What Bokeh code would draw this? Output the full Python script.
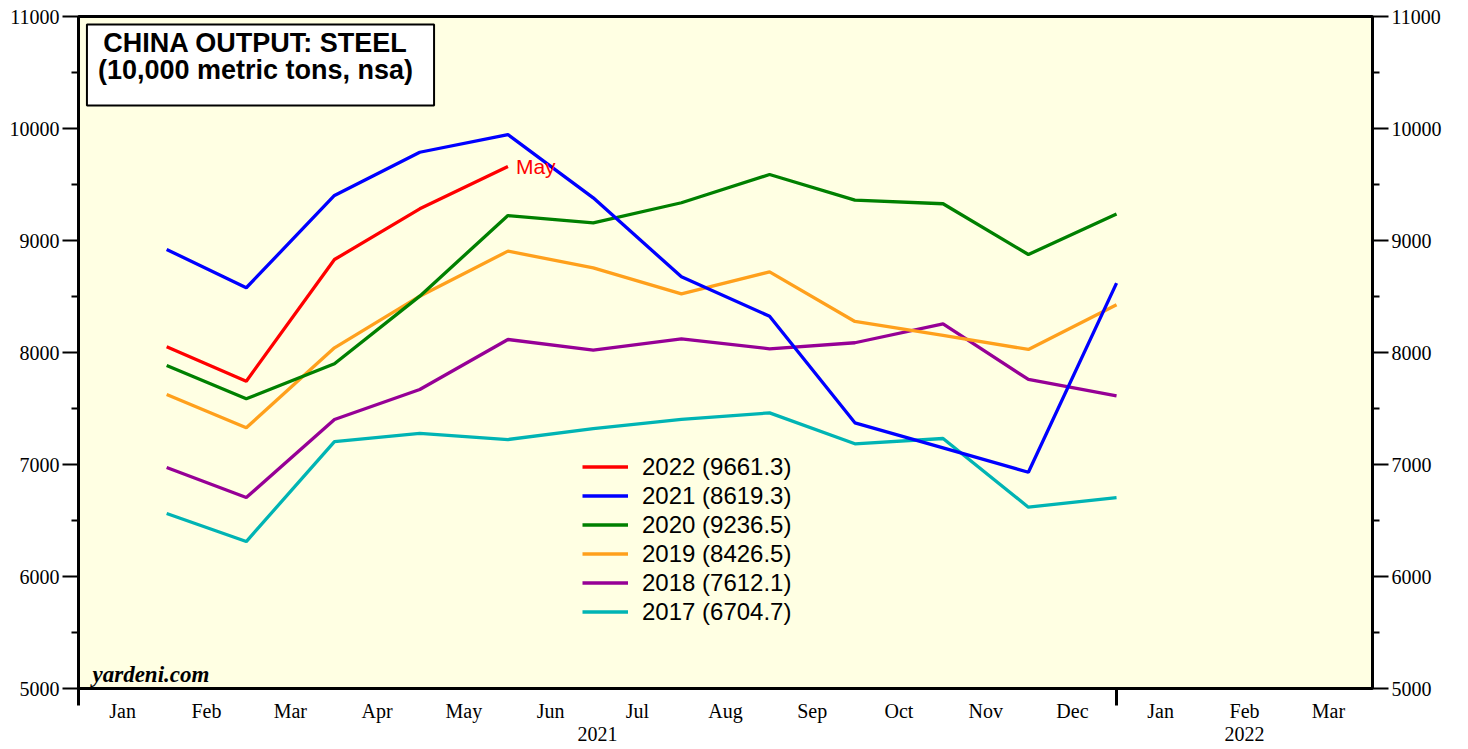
import datetime as dt
from bokeh.plotting import figure
from bokeh.models import Range1d, LinearAxis, FixedTicker, Label, Legend, LegendItem
from bokeh.embed import file_html
from bokeh.resources import INLINE

# ---------------- data ----------------
month_names = ["Jan", "Feb", "Mar", "Apr", "May", "Jun",
               "Jul", "Aug", "Sep", "Oct", "Nov", "Dec"]
axis_months = ["Jan", "Feb", "Mar", "Apr", "May", "Jun", "Jul", "Aug",
               "Sep", "Oct", "Nov", "Dec", "Jan", "Feb", "Mar"]
year_labels = ["2021", "2022"]

v2022 = [8051, 7744, 8830, 9283, 9661.3]
v2021 = [8920, 8578, 9402, 9788, 9946, 9381, 8676, 8324, 7372, 7149, 6931, 8619.3]
v2020 = [7884, 7587, 7899, 8503, 9223, 9158, 9337, 9589, 9360, 9328, 8875, 9236.5]
v2019 = [7625, 7328, 8042, 8503, 8905, 8756, 8524, 8720, 8277, 8152, 8027, 8426.5]
v2018 = [6973, 6705, 7402, 7670, 8116, 8021, 8122, 8033, 8087, 8256, 7759, 7612.1]
v2017 = [6562, 6312, 7205, 7277, 7223, 7321, 7402, 7461, 7185, 7232, 6619, 6704.7]

series = [
    ("2022 (9661.3)", v2022, "#FF0000"),
    ("2021 (8619.3)", v2021, "#0000FF"),
    ("2020 (9236.5)", v2020, "#008000"),
    ("2019 (8426.5)", v2019, "#FFA01C"),
    ("2018 (7612.1)", v2018, "#960096"),
    ("2017 (6704.7)", v2017, "#00B4B4"),
]

# ---------------- x positions (days since 2021-01-01) ----------------
base = dt.date(2021, 1, 1)


def month_start(i):  # i = 0 -> Jan 2021
    y = 2021 + i // 12
    m = i % 12 + 1
    return (dt.date(y, m, 1) - base).days


month_end_x = [month_start(i + 1) for i in range(12)]  # plotted at month end
x_end = month_start(15)
tick_mids = [(month_start(i) + month_start(i + 1)) / 2 for i in range(15)]
year_mids = [(month_start(0) + month_start(12)) / 2, (month_start(12) + month_start(15)) / 2]

# ---------------- figure ----------------
p = figure(width=1452, height=748,
           x_range=Range1d(0, x_end), y_range=Range1d(5000, 11000),
           x_axis_type=None, y_axis_type=None,
           output_backend="svg", toolbar_location=None,
           min_border_left=78, min_border_right=80,
           min_border_top=16, min_border_bottom=60)
p.background_fill_color = "#FFFFE3"
p.border_fill_color = "white"
p.outline_line_color = "black"
p.outline_line_width = 3
p.xgrid.visible = False
p.ygrid.visible = False

serif = "Liberation Serif"
sans = "Liberation Sans"

ymaj = list(range(5000, 11001, 1000))
ymin = list(range(5500, 11000, 1000))
for side in ("left", "right"):
    ax = LinearAxis(ticker=FixedTicker(ticks=ymaj, minor_ticks=ymin))
    ax.major_tick_out = 16
    ax.major_tick_in = 0
    ax.minor_tick_out = 7
    ax.minor_tick_in = 0
    ax.major_tick_line_width = 2
    ax.minor_tick_line_width = 2
    ax.major_tick_line_color = "black"
    ax.minor_tick_line_color = "black"
    ax.axis_line_color = None
    ax.major_label_text_font = serif
    ax.major_label_text_font_size = "20px"
    ax.major_label_text_color = "black"
    ax.major_label_standoff = 3
    p.add_layout(ax, side)

xa = LinearAxis(ticker=FixedTicker(ticks=tick_mids, minor_ticks=[month_start(0), month_start(12)]))
xa.major_label_overrides = {t: lab for t, lab in zip(tick_mids, axis_months)}
xa.major_tick_line_color = None
xa.major_tick_out = 0
xa.major_tick_in = 0
xa.minor_tick_out = 17
xa.minor_tick_in = 0
xa.minor_tick_line_width = 3
xa.minor_tick_line_color = "black"
xa.axis_line_color = None
xa.major_label_text_font = serif
xa.major_label_text_font_size = "20px"
xa.major_label_text_color = "black"
xa.major_label_standoff = -6
p.add_layout(xa, "below")

ya = LinearAxis(ticker=FixedTicker(ticks=year_mids, minor_ticks=[]))
ya.major_label_overrides = {t: lab for t, lab in zip(year_mids, year_labels)}
ya.major_tick_line_color = None
ya.minor_tick_line_color = None
ya.major_tick_out = 0
ya.major_tick_in = 0
ya.axis_line_color = None
ya.major_label_text_font = serif
ya.major_label_text_font_size = "20px"
ya.major_label_text_color = "black"
ya.major_label_standoff = 2
p.add_layout(ya, "below")

# ---------------- lines (draw oldest first so 2022 is on top) ----------------
items = []
renderers = {}
for label, vals, color in reversed(series):
    r = p.line(month_end_x[:len(vals)], vals, line_color=color, line_width=3.3)
    renderers[label] = r
for label, vals, color in series:
    items.append(LegendItem(label=label, renderers=[renderers[label]]))

legend = Legend(items=items, location=(504, 62))
legend.background_fill_alpha = 0
legend.border_line_color = None
legend.padding = 0
legend.margin = 0
legend.spacing = 0
legend.glyph_width = 46
legend.glyph_height = 29
legend.label_height = 29
legend.label_standoff = 14
legend.label_text_font = sans
legend.label_text_font_size = "24px"
legend.label_text_color = "black"
p.add_layout(legend, "center")

# ---------------- annotations ----------------
title = Label(x=182, y=664, x_units="screen", y_units="screen",
              text="CHINA OUTPUT: STEEL\n(10,000 metric tons, nsa)",
              text_font=sans, text_font_style="bold", text_font_size="27px",
              text_color="black", text_align="center", anchor="top_center",
              text_line_height=0.9,
              background_fill_color="white", border_line_color="black",
              border_line_width=2, padding=(11, 21, 3, 21))
p.add_layout(title)

may = Label(x=month_end_x[4], y=v2022[-1], text="May", x_offset=8,
            text_font=sans, text_font_size="21px", text_color="#FF0000",
            text_baseline="middle")
p.add_layout(may)

src = Label(x=14, y=14, x_units="screen", y_units="screen", text="yardeni.com",
            text_font=serif, text_font_style="bold italic", text_font_size="23px",
            text_color="black", text_baseline="middle")
p.add_layout(src)

open("out.html", "w").write(file_html(p, INLINE))
